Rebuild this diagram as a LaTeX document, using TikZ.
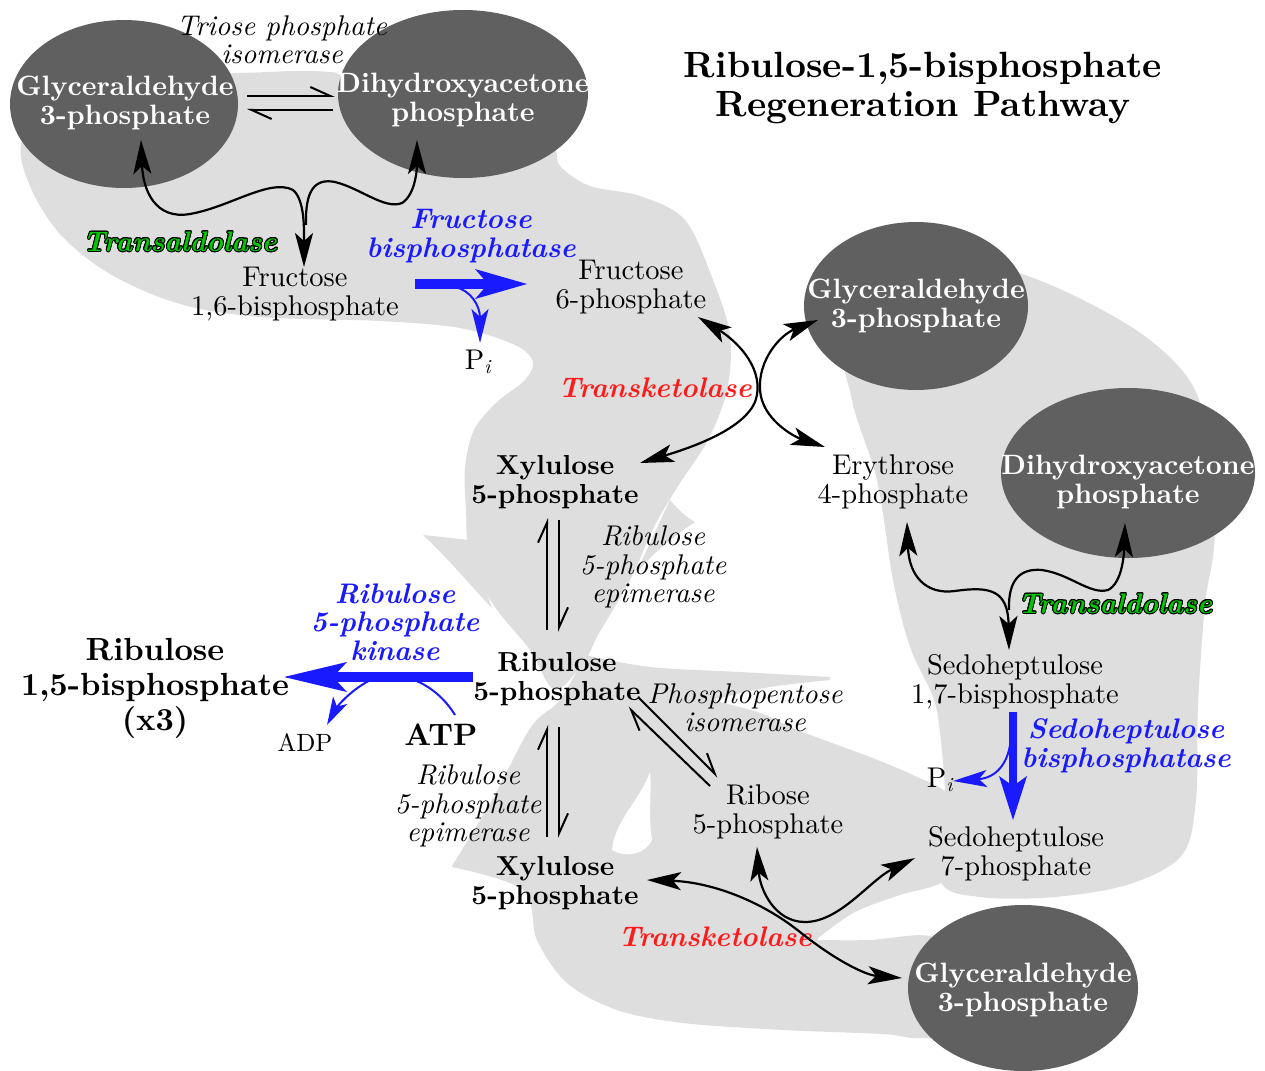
\documentclass[tikz,border=0pt]{standalone}
\usepackage{fontspec}
\setmainfont{lmroman10}[Extension=.otf, UprightFont=*-regular, BoldFont=*-bold, ItalicFont=*-italic, BoldItalicFont=*-bolditalic]
\usepackage{contour}
\usetikzlibrary{arrows.meta,shapes.geometric}
\definecolor{bgc}{RGB}{222,222,222}
\definecolor{dkc}{RGB}{96,96,96}
\definecolor{bluec}{RGB}{26,26,255}
\definecolor{redc}{RGB}{255,26,26}
\definecolor{greenc}{RGB}{0,200,0}
\contourlength{0.9pt}
\tikzset{
 reg/.style={align=center, inner sep=0pt, font=\fontsize{28.5}{29}\selectfont},
 bld/.style={align=center, inner sep=0pt, font=\bfseries\fontsize{27.5}{29}\selectfont},
 itl/.style={align=center, inner sep=0pt, font=\itshape\fontsize{28.5}{28.5}\selectfont},
 enz/.style={align=center, inner sep=0pt, font=\bfseries\itshape\fontsize{28.3}{28.5}\selectfont},
 blueenz/.style={enz, text=bluec},
 redenz/.style={enz, text=redc},
 ell/.style={shape=ellipse, fill=dkc, inner sep=0pt},
 elltxt/.style={align=center, inner sep=0pt, text=white, font=\bfseries\fontsize{28}{28.5}\selectfont},
 blk/.style={line width=2.2pt, -{Stealth[length=34pt,width=18pt,inset=8pt]}},
 dblk/.style={line width=2.2pt, {Stealth[length=34pt,width=18pt,inset=8pt]}-{Stealth[length=34pt,width=18pt,inset=8pt]}},
 harp/.style={line width=2pt, -{Straight Barb[left,length=20pt,width=18pt]}},
 bthin/.style={line width=2pt, bluec, -{Stealth[length=34pt,width=17pt,inset=8pt]}},
 bthinb/.style={line width=2pt, bluec, -{Stealth[length=28pt,width=16pt,inset=7pt]}},
}
\begin{document}
\begin{tikzpicture}[x=1pt,y=-1pt]
\useasboundingbox (0,0) rectangle (1265,1070);
\fill[white] (0,0) rectangle (1265,1070);
% background regions
\fill[bgc] plot[smooth cycle, tension=0.55] coordinates {(60,80) (240,73) (340,73) (470,100) (548,140) (560,166) (590,186) (640,196) (685,220) (713,280) (730,335) (727,390) (708,440) (680,483) (655,525) (630,580) (598,635) (585,660) (555,690) (530,650) (495,607) (470,560) (466,510) (465,468) (474,430) (497,402) (524,381) (533,362) (515,345) (460,328) (380,321) (260,317) (180,304) (110,274) (60,234) (30,186) (22,140)};
\fill[bgc] (468,540) .. controls (450,538) and (435,536) .. (423,535) .. controls (445,555) and (470,585) .. (492,608) -- cycle;
\fill[bgc] (670,500) .. controls (680,512) and (688,518) .. (695,522) .. controls (675,535) and (650,555) .. (635,575) -- cycle;
\fill[bgc] plot[smooth cycle, tension=0.55] coordinates {(850,330) (960,262) (1016,272) (1083,300) (1150,340) (1195,390) (1214,470) (1214,547) (1205,604) (1198,705) (1196,800) (1182,855) (1130,884) (1055,897) (980,897) (940,880) (945,800) (940,733) (933,697) (910,647) (893,580) (877,480) (852,400)};
\fill[bgc] plot[smooth, tension=0.55] coordinates {(585,655) (650,667) (740,672) (830,677)}
 -- plot[smooth, tension=0.55] coordinates {(830,680) (770,687) (716,699)}
 -- plot[smooth, tension=0.55] coordinates {(716,701) (760,713) (800,731) (870,757) (915,776) (948,795) (958,840) (945,880) (900,895) (855,912) (818,938)}
 -- plot[smooth, tension=0.55] coordinates {(818,940) (870,940) (930,936) (975,960) (960,1030) (917,1038) (883,1034) (783,1030) (683,1023) (617,1010) (567,983) (537,940) (523,890) (452,867)}
 -- plot[smooth, tension=0.55] coordinates {(452,866) (492,800) (531,727) (560,700) (585,655)}
 -- cycle;
\fill[white] (650,772) .. controls (640,800) and (615,820) .. (612,850) .. controls (625,858) and (645,855) .. (652,840) .. controls (648,815) and (652,790) .. (650,772);
% ellipses
\node[ell, minimum width=228pt, minimum height=168pt] (gapA) at (124,104) {};
\node[ell, minimum width=250pt, minimum height=168pt] (dhapA) at (463,94) {};
\node[ell, minimum width=224pt, minimum height=168pt] (gapB) at (916,306) {};
\node[ell, minimum width=254pt, minimum height=170pt] (dhapB) at (1128,473) {};
\node[ell, minimum width=230pt, minimum height=166pt] (gapC) at (1023,988) {};
\node[elltxt] (gapAt) at (125,103) {Glyceraldehyde\\3-phosphate};
\node[elltxt] (dhapAt) at (463,100) {Dihydroxyacetone\\phosphate};
\node[elltxt] (gapBt) at (916,306) {Glyceraldehyde\\3-phosphate};
\node[elltxt] (dhapBt) at (1128,482) {Dihydroxyacetone\\phosphate};
\node[elltxt] (gapCt) at (1023,990) {Glyceraldehyde\\3-phosphate};
% text nodes
\node[align=center, inner sep=0pt, font=\bfseries\fontsize{36.5}{39}\selectfont] (title) at (923,88) {Ribulose-1,5-bisphosphate\\Regeneration Pathway};
\node[itl] (tpi) at (282,40) {Triose phosphate\\isomerase};
\node[reg] (f16bp) at (295,294) {Fructose\\1,6-bisphosphate};
\node[blueenz] (fbp) at (471,236) {Fructose\\bisphosphatase};
\node[reg] (pi1) at (478,362) {P\textsubscript{\itshape i}};
\node[reg] (f6p) at (631,287) {Fructose\\6-phosphate};
\node[redenz] (tk1) at (655,388) {Transketolase};
\node[enz] (tal1) at (180,242) {\color{greenc}\contour{black}{Transaldolase}};
\node[bld] (x5pA) at (555,482) {Xylulose\\5-phosphate};
\node[reg] (e4p) at (893,482) {Erythrose\\4-phosphate};
\node[itl] (epi1) at (653,567) {Ribulose\\5-phosphate\\epimerase};
\node[enz] (tal2) at (1115,604) {\color{greenc}\contour{black}{Transaldolase}};
\node[reg] (s17bp) at (1015,682) {Sedoheptulose\\1,7-bisphosphate};
\node[blueenz] (sbp) at (1126,746) {Sedoheptulose\\bisphosphatase};
\node[reg] (pi2) at (940,780) {P\textsubscript{\itshape i}};
\node[reg] (s7p) at (1016,854) {Sedoheptulose\\7-phosphate};
\node[bld] (ru5p) at (557,679) {Ribulose\\5-phosphate};
\node[itl] (ppi) at (745,708) {Phosphopentose\\isomerase};
\node[reg] (r5p) at (768,812) {Ribose\\5-phosphate};
\node[itl] (epi2) at (468,806) {Ribulose\\5-phosphate\\epimerase};
\node[bld] (x5pB) at (555,883) {Xylulose\\5-phosphate};
\node[redenz] (tk2) at (715,937) {Transketolase};
\node[align=center, inner sep=0pt, font=\bfseries\fontsize{32}{35}\selectfont] (rubp) at (155,688) {Ribulose\\1,5-bisphosphate\\(x3)};
\node[blueenz] (kin) at (395,622) {Ribulose\\5-phosphate\\kinase};
\node[inner sep=0pt, font=\fontsize{25}{27}\selectfont] (adp) at (305,743) {ADP};
\node[inner sep=0pt, font=\bfseries\fontsize{31}{32}\selectfont] (atp) at (441,735) {ATP};
% equilibrium harpoons
\draw[harp] ([shift={(123,-8)}]gapA.center) -- ([shift={(-128,2)}]dhapA.center);
\draw[harp] ([shift={(-130,16)}]dhapA.center) -- ([shift={(123,6)}]gapA.center);
\draw[harp] ([shift={(-10,-49)}]ru5p.center) -- ([shift={(-8,36)}]x5pA.center);
\draw[harp] ([shift={(4,38)}]x5pA.center) -- ([shift={(2,-47)}]ru5p.center);
\draw[harp] ([shift={(-8,-46)}]x5pB.center) -- ([shift={(-10,46)}]ru5p.center);
\draw[harp] ([shift={(2,48)}]ru5p.center) -- ([shift={(4,-45)}]x5pB.center);
\draw[harp] ([shift={(81,18)}]ru5p.center) -- ([shift={(-50,-35)}]r5p.center);
\draw[harp] ([shift={(-58,-26)}]r5p.center) -- ([shift={(71,28)}]ru5p.center);
% transaldolase (top)
\draw[dblk] ([shift={(17,36)}]gapA.center) .. controls (143,190) and (155,220) .. (190,214) .. controls (230,207) and (270,178) .. (293,190) .. controls (305,200) and (304,230) .. ([shift={(9,-27)}]f16bp.center);
\draw[blk] ([shift={(11,-69)}]f16bp.center) .. controls (305,190) and (315,178) .. (335,182) .. controls (360,188) and (385,210) .. (402,203) .. controls (415,195) and (417,170) .. ([shift={(-46,46)}]dhapA.center);
% transketolase (top)
\draw[dblk] ([shift={(67,30)}]f6p.center) .. controls (735,340) and (762,365) .. (757,395) .. controls (752,425) and (700,445) .. ([shift={(85,-19)}]x5pA.center);
\draw[dblk] ([shift={(-98,14)}]gapB.center) .. controls (780,335) and (758,360) .. (760,390) .. controls (762,420) and (795,437) .. ([shift={(-68,-35)}]e4p.center);
% transaldolase (right)
\draw[dblk] ([shift={(14,40)}]e4p.center) .. controls (909,575) and (925,595) .. (955,591) .. controls (990,586) and (1008,590) .. ([shift={(-6,-32)}]s17bp.center);
\draw[blk] ([shift={(-6,-72)}]s17bp.center) .. controls (1008,580) and (1020,568) .. (1042,570) .. controls (1070,574) and (1090,595) .. (1108,590) .. controls (1122,583) and (1124,555) .. ([shift={(-3,50)}]dhapB.center);
% transketolase (bottom)
\draw[dblk] ([shift={(92,-3)}]x5pB.center) .. controls (710,882) and (760,900) .. (800,932) .. controls (835,960) and (865,975) .. ([shift={(-121,-10)}]gapC.center);
\draw[dblk] ([shift={(-11,35)}]r5p.center) .. controls (760,890) and (775,922) .. (805,922) .. controls (840,922) and (870,880) .. ([shift={(-101,4)}]s7p.center);
% blue reactions
\draw[line width=10pt, bluec, -{Stealth[length=52pt,width=30pt,inset=13pt,line width=0pt]}] ([shift={(120,-10)}]f16bp.center) -- ([shift={(-104,-3)}]f6p.center);
\draw[bthin] ([shift={(160,-7)}]f16bp.center) .. controls (470,290) and (480,305) .. ([shift={(2,-19)}]pi1.center);
\draw[line width=8pt, bluec, -{Stealth[length=44pt,width=28pt,inset=10pt,line width=0pt]}] ([shift={(-2,30)}]s17bp.center) -- ([shift={(-3,-34)}]s7p.center);
\draw[bthin] ([shift={(-4,55)}]s17bp.center) .. controls (1009,765) and (995,778) .. ([shift={(13,1)}]pi2.center);
\draw[line width=10pt, bluec, -{Stealth[length=63pt,width=30pt,inset=14pt,line width=0pt]}] ([shift={(-84,-2)}]ru5p.center) -- ([shift={(129,-11)}]rubp.center);
\draw[bthinb] ([shift={(14,-20)}]atp.center) .. controls (435,682) and (395,665) .. (365,683) .. controls (345,695) and (335,710) .. ([shift={(22,-18)}]adp.center);
\end{tikzpicture}
\end{document}
